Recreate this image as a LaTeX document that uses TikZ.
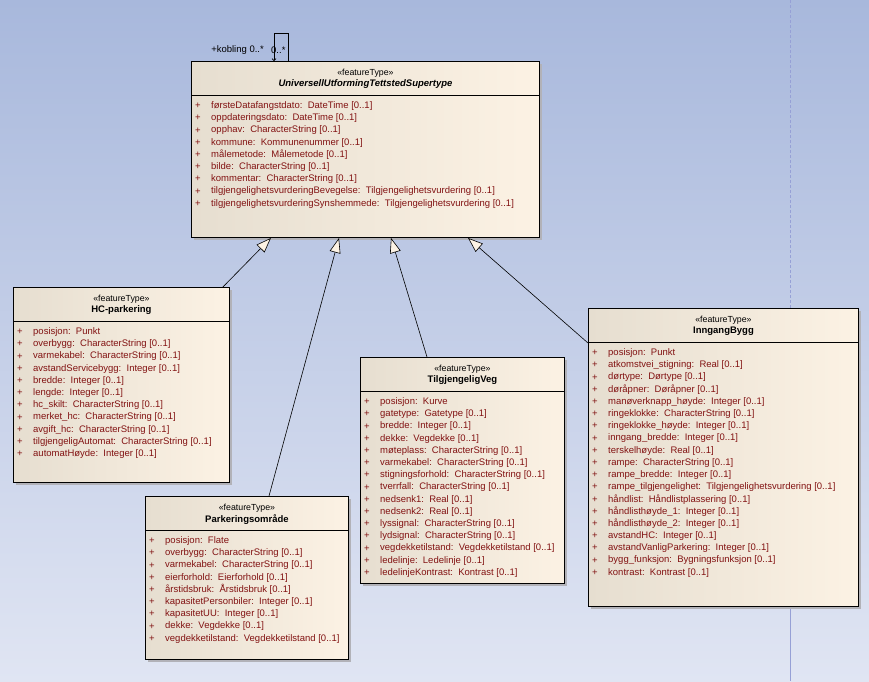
\documentclass[tikz,border=0pt]{standalone}
\usepackage{fontspec}
\setmainfont{Liberation Sans}
\usetikzlibrary{arrows.meta,calc,positioning,shadows}

\definecolor{bgtop}{RGB}{168,184,220}
\definecolor{bgbottom}{RGB}{224,229,243}
\definecolor{boxleft}{RGB}{230,222,208}
\definecolor{boxright}{RGB}{252,242,228}
\definecolor{attrred}{RGB}{130,18,18}
\definecolor{shadowgray}{RGB}{178,178,184}
\definecolor{pageline}{RGB}{150,160,214}

\tikzset{
    classbox/.style={draw=black, line width=0.9pt, left color=boxleft,
        right color=boxright, anchor=north west, inner sep=0pt,
        drop shadow={shadow xshift=3pt, shadow yshift=-3pt,
            fill=shadowgray, opacity=1}},
    stereo/.style={font=\fontsize{8.8}{10}\selectfont, inner sep=0pt},
    cname/.style={font=\fontsize{9.5}{11}\selectfont\bfseries, inner sep=0pt},
    attrtext/.style={font=\fontsize{9.5}{11}\selectfont, text=attrred,
        anchor=west, inner sep=0pt},
    roletext/.style={font=\fontsize{9.5}{11}\selectfont, inner sep=0pt},
    gen/.style={-{Triangle[open, length=15pt, width=11pt, fill=boxright]},
        line width=0.6pt},
}

% one class box: name, title, corner, width, height, attributes
\newcommand{\umlclass}[6]{%
    \node[classbox, minimum width=#4pt, minimum height=#5pt] (#1) at (#3) {};
    \draw[line width=0.9pt] ($(#1.north west)+(0,34)$) -- ($(#1.north east)+(0,34)$);
    \node[stereo] (#1-st) at ($(#1.north)+(0,12)$) {«featureType»};
    \node[cname] (#1-nm) at ($(#1.north)+(0,23.5)$) {#2};
    \foreach \aname/\atype [count=\i from 0] in {#6} {
        \node[attrtext] at ($(#1.north west)+(4,45+12.2*\i)$) {+};
        \node[attrtext] at ($(#1.north west)+(20,45+12.2*\i)$) {\aname:\ \ \atype};
    }%
}

\begin{document}
\begin{tikzpicture}[x=1pt, y=-1pt]
    \useasboundingbox (0,0) rectangle (869,681);
    \fill[top color=bgtop, bottom color=bgbottom] (0,0) rectangle (869,681);
    \draw[pageline, dash pattern=on 3pt off 2pt] (790,0) -- (790,681);
    \draw[pageline] (790,606) -- (790,681);

    \umlclass{super}{\itshape UniversellUtformingTettstedSupertype}{191,61}{348}{176}{
        førsteDatafangstdato/DateTime [0..1],
        oppdateringsdato/DateTime [0..1],
        opphav/CharacterString [0..1],
        kommune/Kommunenummer [0..1],
        målemetode/Målemetode [0..1],
        bilde/CharacterString [0..1],
        kommentar/CharacterString [0..1],
        tilgjengelighetsvurderingBevegelse/Tilgjengelighetsvurdering [0..1],
        tilgjengelighetsvurderingSynshemmede/Tilgjengelighetsvurdering [0..1]}

    \umlclass{hc}{HC-parkering}{13,287}{216}{195}{
        posisjon/Punkt,
        overbygg/CharacterString [0..1],
        varmekabel/CharacterString [0..1],
        avstandServicebygg/Integer [0..1],
        bredde/Integer [0..1],
        lengde/Integer [0..1],
        hc\_skilt/CharacterString [0..1],
        merket\_hc/CharacterString [0..1],
        avgift\_hc/CharacterString [0..1],
        tilgjengeligAutomat/CharacterString [0..1],
        automatHøyde/Integer [0..1]}

    \umlclass{park}{Parkeringsområde}{145,496}{203}{163}{
        posisjon/Flate,
        overbygg/CharacterString [0..1],
        varmekabel/CharacterString [0..1],
        eierforhold/Eierforhold [0..1],
        årstidsbruk/Årstidsbruk [0..1],
        kapasitetPersonbiler/Integer [0..1],
        kapasitetUU/Integer [0..1],
        dekke/Vegdekke [0..1],
        vegdekketilstand/Vegdekketilstand [0..1]}

    \umlclass{veg}{TilgjengeligVeg}{360,357}{204}{226}{
        posisjon/Kurve,
        gatetype/Gatetype [0..1],
        bredde/Integer [0..1],
        dekke/Vegdekke [0..1],
        møteplass/CharacterString [0..1],
        varmekabel/CharacterString [0..1],
        stigningsforhold/CharacterString [0..1],
        tverrfall/CharacterString [0..1],
        nedsenk1/Real [0..1],
        nedsenk2/Real [0..1],
        lyssignal/CharacterString [0..1],
        lydsignal/CharacterString [0..1],
        vegdekketilstand/Vegdekketilstand [0..1],
        ledelinje/Ledelinje [0..1],
        ledelinjeKontrast/Kontrast [0..1]}

    \umlclass{bygg}{InngangBygg}{588,308}{270}{298}{
        posisjon/Punkt,
        atkomstvei\_stigning/Real [0..1],
        dørtype/Dørtype [0..1],
        døråpner/Døråpner [0..1],
        manøverknapp\_høyde/Integer [0..1],
        ringeklokke/CharacterString [0..1],
        ringeklokke\_høyde/Integer [0..1],
        inngang\_bredde/Integer [0..1],
        terskelhøyde/Real [0..1],
        rampe/CharacterString [0..1],
        rampe\_bredde/Integer [0..1],
        rampe\_tilgjengelighet/Tilgjengelighetsvurdering [0..1],
        håndlist/Håndlistplassering [0..1],
        håndlisthøyde\_1/Integer [0..1],
        håndlisthøyde\_2/Integer [0..1],
        avstandHC/Integer [0..1],
        avstandVanligParkering/Integer [0..1],
        bygg\_funksjon/Bygningsfunksjon [0..1],
        kontrast/Kontrast [0..1]}

    % generalisations
    \draw[gen] ($(hc.north east)+(-7,0)$) -- ($(super.south west)+(80,0)$);
    \draw[gen] ($(park.north west)+(124,0)$) -- ($(super.south west)+(148,0)$);
    \draw[gen] ($(veg.north west)+(67,0)$) -- ($(super.south west)+(200,0)$);
    \draw[gen] ($(bygg.north west)+(0,35)$) -- ($(super.south west)+(277,0)$);

    % self association
    \coordinate (kobA) at ($(super.north west)+(97,0)$);
    \coordinate (kobB) at ($(super.north west)+(83,0)$);
    \draw[line width=0.7pt, -{Straight Barb[length=2pt, width=4pt]}]
        (kobA) -- ++(0,-28) -| (kobB);
    \node[roletext, anchor=east] (kobrole) at ($(kobB)+(-10,-11)$) {+kobling 0..*};
    \node[roletext, anchor=west] (kobmult) at ($(kobB)+(-3,-11)$) {0..*};
\end{tikzpicture}
\end{document}
